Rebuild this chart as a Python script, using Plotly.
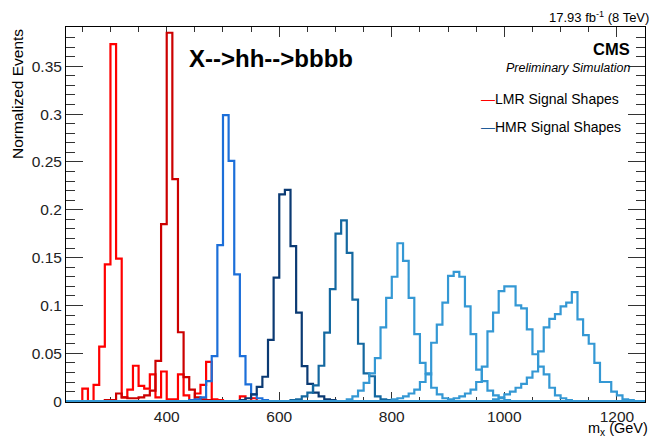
import numpy as np
import plotly.graph_objects as go

# Histogram binning (GeV)
BIN_WIDTH = 10
X_LOW, X_HIGH = 200, 1300

# Normalised signal shapes: low edge of first listed bin and per-bin fractions
lmr_300_start = 250
lmr_300 = [0.013, 0.0, 0.017, 0.057, 0.143, 0.373, 0.149, 0.004, 0.012, 0.037,
           0.016, 0.013, 0.028, 0.004, 0.031, 0.002, 0.002, 0.028, 0.006, 0.0,
           0.008, 0.017, 0.041, 0.002, 0.001, 0.0, 0.0, 0.0, 0.005, 0.0, 0.003]

lmr_400_start = 290
lmr_400 = [0.001, 0.001, 0.008, 0.004, 0.003, 0.003, 0.004, 0.006, 0.011, 0.042,
           0.185, 0.385, 0.232, 0.072, 0.025, 0.012, 0.004, 0.002, 0.001]

hmr_500_start = 440
hmr_500 = [0.001, 0.002, 0.004, 0.021, 0.047, 0.163, 0.299, 0.251, 0.1325, 0.047,
           0.0175, 0.007, 0.003, 0.001]

hmr_600_start = 530
hmr_600 = [0.001, 0.003, 0.007, 0.015, 0.0255, 0.064, 0.129, 0.216, 0.2207, 0.162,
           0.0925, 0.0366, 0.018, 0.0088, 0.005, 0.002, 0.001]

hmr_700_start = 620
hmr_700 = [0.001, 0.002, 0.005, 0.009, 0.0165, 0.037, 0.0715, 0.117, 0.175, 0.189,
           0.155, 0.106, 0.060, 0.029, 0.026, 0.005, 0.002, 0.001]

hmr_800_start = 720
hmr_800 = [0.002, 0.005, 0.011, 0.019, 0.029, 0.045, 0.077, 0.108, 0.130, 0.165,
           0.1465, 0.108, 0.070, 0.040, 0.029, 0.014, 0.007, 0.003, 0.001]

hmr_900_start = 800
hmr_900 = [0.002, 0.003, 0.005, 0.008, 0.012, 0.020, 0.028, 0.061, 0.080, 0.103,
           0.131, 0.135, 0.130, 0.099, 0.070, 0.033, 0.021, 0.011, 0.006, 0.003, 0.001]

hmr_1000_start = 900
hmr_1000 = [0.002, 0.003, 0.005, 0.008, 0.012, 0.020, 0.036, 0.073, 0.0925, 0.115,
            0.120, 0.120, 0.100, 0.097, 0.075, 0.049, 0.036, 0.028, 0.014, 0.006,
            0.003, 0.001]

hmr_1100_start = 980
hmr_1100 = [0.002, 0.004, 0.007, 0.010, 0.014, 0.018, 0.0245, 0.031, 0.052, 0.077,
            0.086, 0.091, 0.099, 0.103, 0.114, 0.0855, 0.069, 0.060, 0.040, 0.020,
            0.020, 0.010, 0.006, 0.002, 0.001]

# Axis ticks
x_tick_vals = [400, 600, 800, 1000, 1200]
x_tick_text = ["400", "600", "800", "1000", "1200"]
y_tick_vals = [0, 0.05, 0.1, 0.15, 0.2, 0.25, 0.3, 0.35]
y_tick_text = ["0", "0.05", "0.1", "0.15", "0.2", "0.25", "0.3", "0.35"]

RED = "#ff0000"
DARK_RED = "#cc0000"
BLUE_500 = "#1c6fd9"
NAVY_600 = "#0b3a73"
TEAL_700 = "#1468a0"
LIGHT_BLUE = "#3498d4"
HMR_KEY = "#1f5c9a"

FONT = "Liberation Sans, Arial, Helvetica, sans-serif"


def step_trace(start, values, color):
    n_total = int(round((X_HIGH - X_LOW) / BIN_WIDTH))
    first = int(round((start - X_LOW) / BIN_WIDTH))
    contents = np.zeros(n_total)
    contents[first:first + len(values)] = values
    edges = X_LOW + BIN_WIDTH * np.arange(n_total + 1)
    y = np.append(contents, contents[-1])
    return go.Scatter(x=edges, y=y, mode="lines",
                      line=dict(shape="hv", color=color, width=2.2),
                      showlegend=False, hoverinfo="skip")


fig = go.Figure()
for start, vals, col in [
    (lmr_300_start, lmr_300, RED),
    (lmr_400_start, lmr_400, DARK_RED),
    (hmr_500_start, hmr_500, BLUE_500),
    (hmr_600_start, hmr_600, NAVY_600),
    (hmr_700_start, hmr_700, TEAL_700),
    (hmr_800_start, hmr_800, LIGHT_BLUE),
    (hmr_900_start, hmr_900, LIGHT_BLUE),
    (hmr_1000_start, hmr_1000, LIGHT_BLUE),
    (hmr_1100_start, hmr_1100, LIGHT_BLUE),
]:
    fig.add_trace(step_trace(start, vals, col))

axis_common = dict(
    showline=True, linecolor="black", linewidth=1, mirror="allticks",
    ticks="inside", tickcolor="#333", tickwidth=1,
    showgrid=False, zeroline=False, layer="below traces",
    tickfont=dict(family=FONT, size=15.5, color="#222"),
)

fig.update_xaxes(
    range=[221, 1250], tickvals=x_tick_vals, ticktext=x_tick_text, ticklen=10,
    minor=dict(ticks="inside", dtick=50, tick0=0, ticklen=5, tickcolor="#333", showgrid=False),
    **axis_common,
)
fig.update_yaxes(
    range=[-0.0009, 0.391], tickvals=y_tick_vals, ticktext=y_tick_text, ticklen=17,
    minor=dict(ticks="inside", dtick=0.01, tick0=0, ticklen=9, tickcolor="#333", showgrid=False),
    **axis_common,
)

annotations = [
    dict(text="<b>X-->hh-->bbbb</b>", x=0.2090, y=0.917, xanchor="left", yanchor="middle",
         font=dict(family=FONT, size=24, color="black")),
    dict(text="17.93 fb<sup>-1</sup> (8 TeV)", x=1.0104, y=1.026, xanchor="right", yanchor="middle",
         font=dict(family=FONT, size=13, color="black")),
    dict(text="<b>CMS</b>", x=0.9775, y=0.9413, xanchor="right", yanchor="middle",
         font=dict(family=FONT, size=16.5, color="black")),
    dict(text="<i>Preliminary Simulation</i>", x=0.9775, y=0.8907, xanchor="right", yanchor="middle",
         font=dict(family=FONT, size=12.5, color="black")),
    dict(text=f"<span style='color:{RED}'>\u2014</span>LMR Signal Shapes", x=(479 - 66) / 579, y=0.808,
         xanchor="left", yanchor="middle", font=dict(family=FONT, size=14, color="black")),
    dict(text=f"<span style='color:{HMR_KEY}'>\u2014</span>HMR Signal Shapes", x=(479 - 66) / 579, y=0.7333,
         xanchor="left", yanchor="middle", font=dict(family=FONT, size=14, color="black")),
    dict(text="Normalized Events", x=-0.0846, y=1.0, xanchor="center", yanchor="top", textangle=-90,
         font=dict(family=FONT, size=15.5, color="black")),
    dict(text="m<sub>x</sub> (GeV)", x=1.0087, y=-0.072, xanchor="right", yanchor="middle",
         font=dict(family=FONT, size=14.5, color="black")),
]
for a in annotations:
    a.update(xref="paper", yref="paper", showarrow=False)

fig.update_layout(
    width=654, height=438,
    margin=dict(l=66, r=9, t=27, b=36),
    paper_bgcolor="white", plot_bgcolor="white",
    annotations=annotations,
    showlegend=False,
)

fig.write_html("out.html")
